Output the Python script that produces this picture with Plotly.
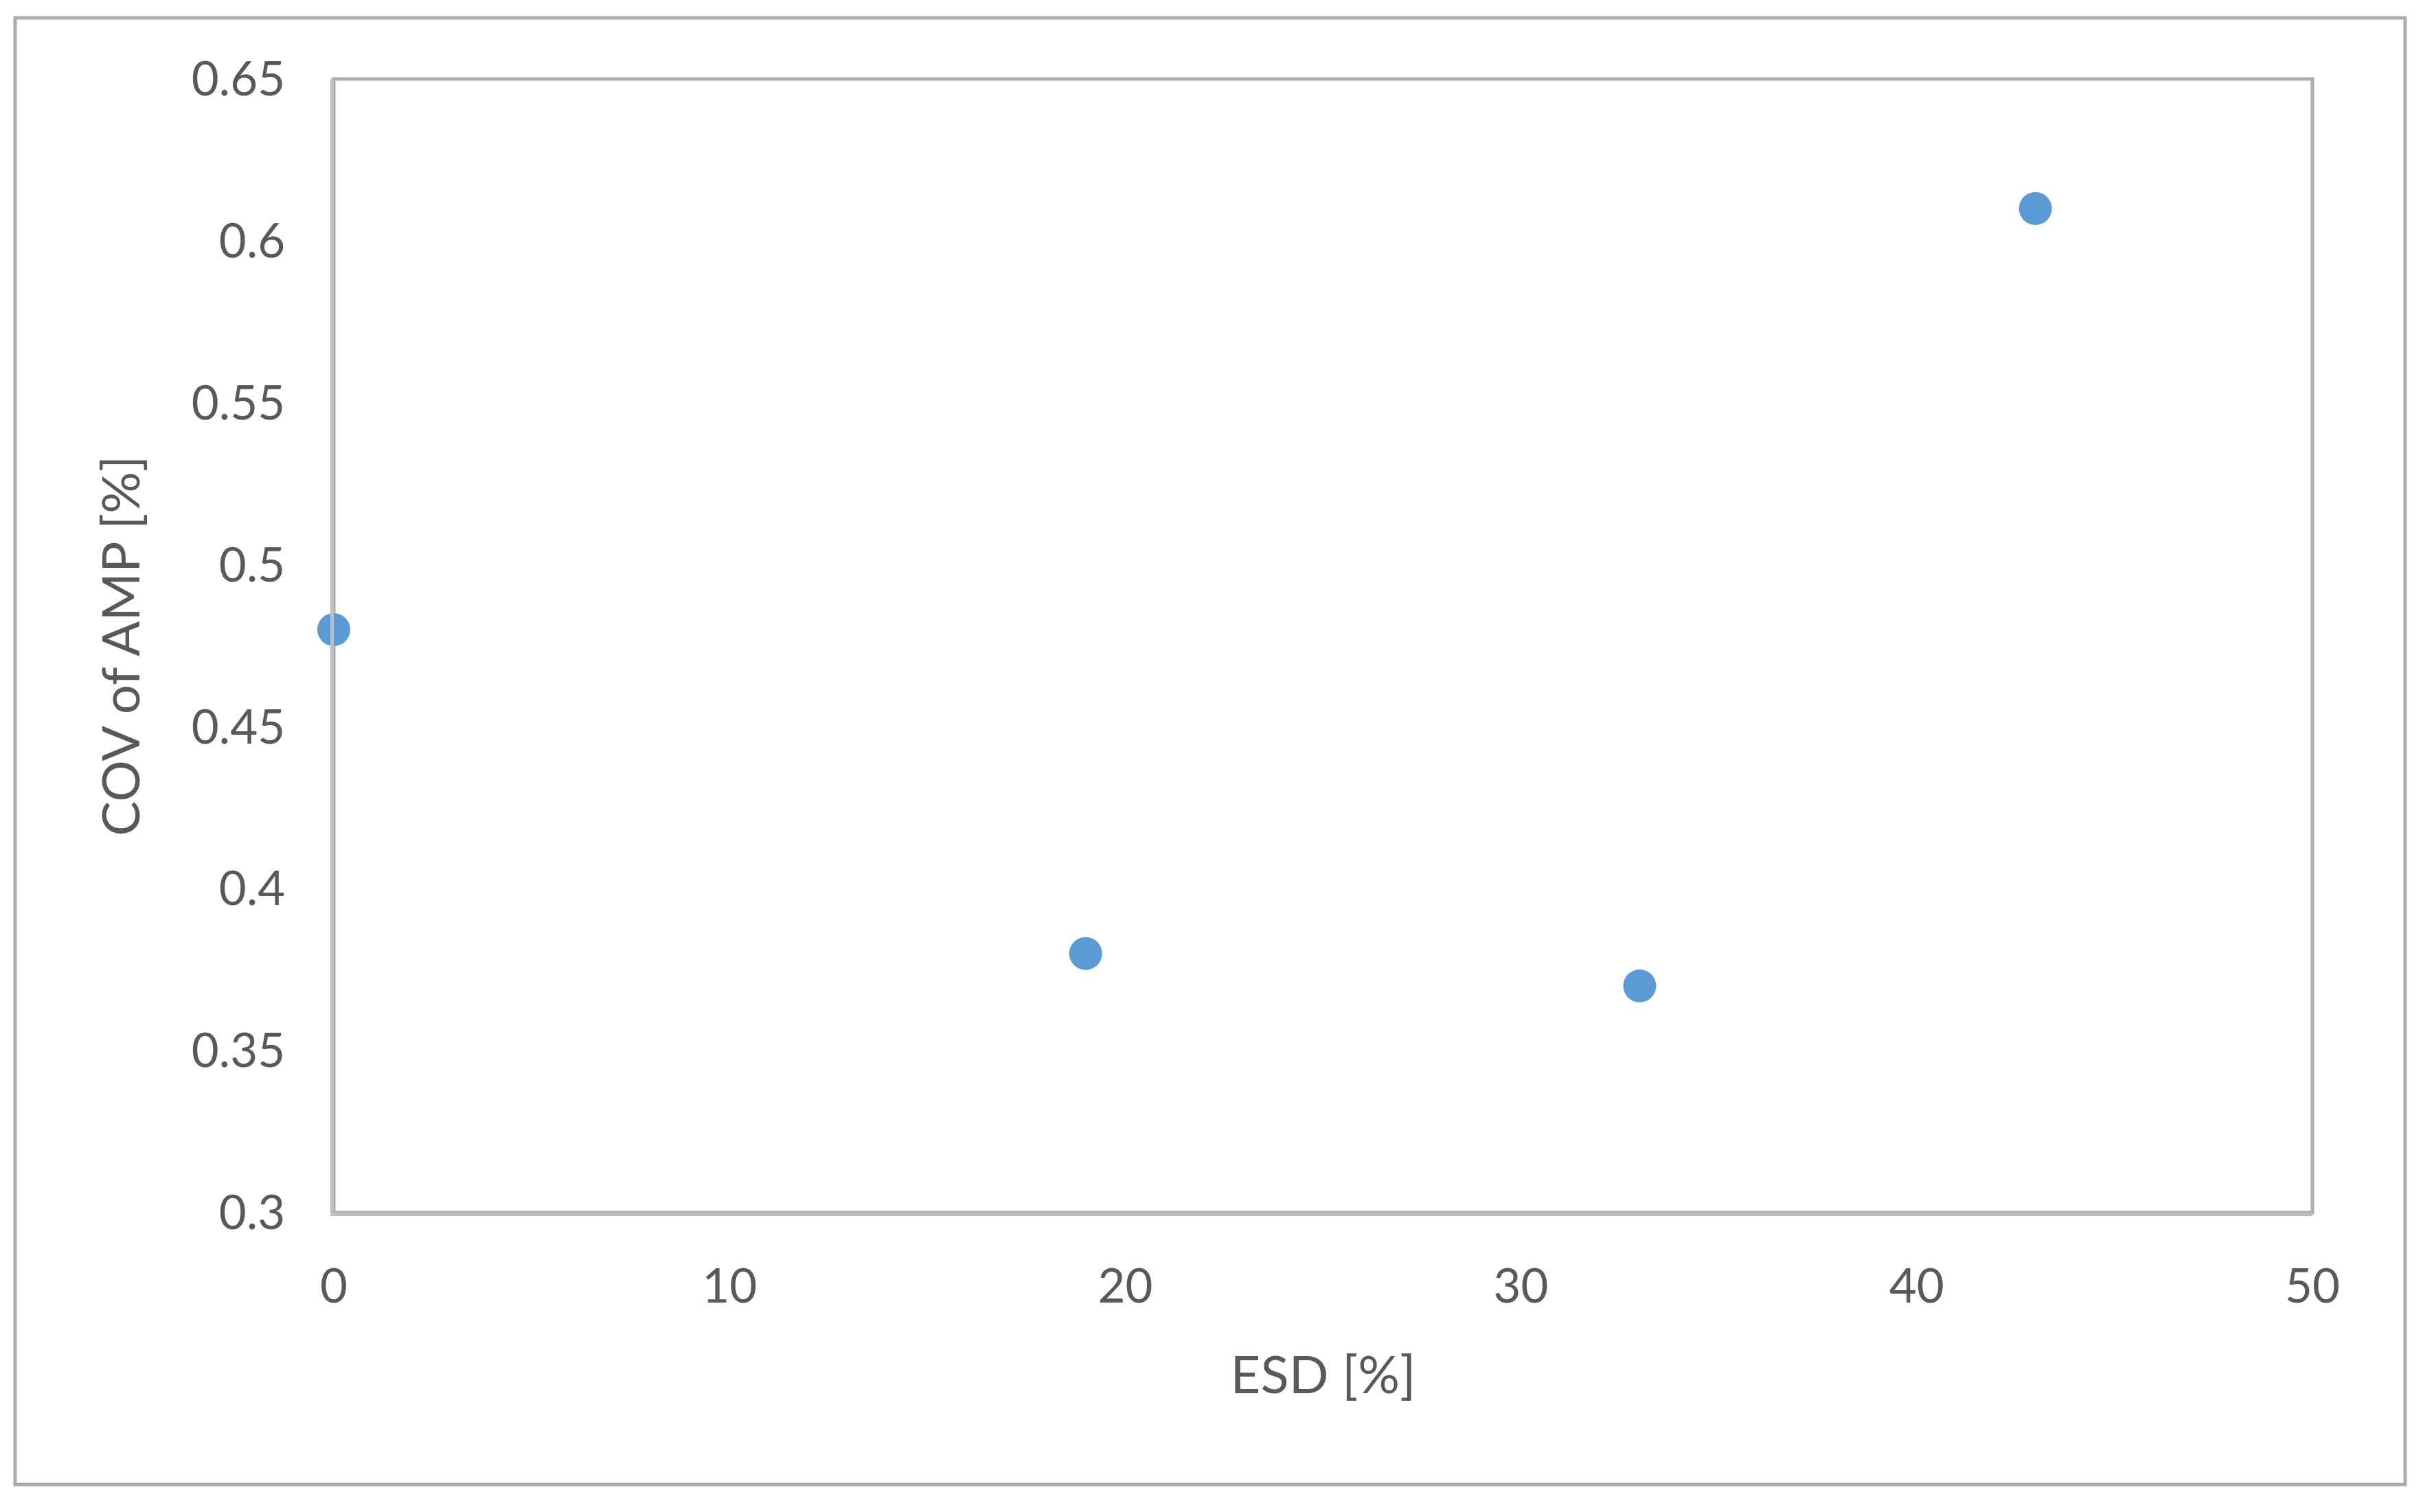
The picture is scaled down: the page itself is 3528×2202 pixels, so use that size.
import plotly.graph_objects as go

# data
esd = [0, 19, 33, 43]
cov_amp = [0.48, 0.38, 0.37, 0.61]

x_ticks = [0, 10, 20, 30, 40, 50]
y_ticks = [0.3, 0.35, 0.4, 0.45, 0.5, 0.55, 0.6, 0.65]

# page body has an 8px margin, so the figure is a bit smaller and shifted
off = 8
W, H = 3528 - 2 * off, 2202 - 2 * off
left, right, top, bottom = 486 - off, 3367 - off, 115 - off, 1766 - off
pw, ph = right - left, bottom - top

text_col = "#595959"
font = "Lato, Carlito, 'Open Sans', sans-serif"

fig = go.Figure()

fig.add_trace(
    go.Scatter(
        x=esd,
        y=cov_amp,
        mode="markers",
        marker=dict(color="#5B9BD5", size=48, line=dict(width=0)),
        cliponaxis=False,
        showlegend=False,
    )
)

axis_common = dict(
    showgrid=False,
    zeroline=False,
    showline=True,
    linecolor="#BFBFBF",
    linewidth=5,
    ticks="",
    tickfont=dict(family=font, size=69, color=text_col),
)

fig.update_xaxes(
    range=[0, 50],
    tickvals=x_ticks,
    ticklabelstandoff=43,
    title=dict(text="ESD [%]", font=dict(family=font, size=76, color=text_col), standoff=67),
    **axis_common
)
fig.update_yaxes(
    range=[0.3, 0.65],
    tickvals=y_ticks,
    ticklabelstandoff=52,
    title=dict(text="COV of AMP [%]", font=dict(family=font, size=76, color=text_col), standoff=52),
    **axis_common
)

# plot area border (top/right side lines)
fig.add_shape(type="rect", xref="paper", yref="paper", x0=0, x1=1, y0=0, y1=1,
              line=dict(color="#AEABAB", width=5), layer="below")

# outer chart border
fig.add_shape(type="rect", xref="paper", yref="paper",
              x0=(22 - off - left) / pw, x1=(3502 - off - left) / pw,
              y0=(bottom - (2162 - off)) / ph, y1=(bottom - (26 - off)) / ph,
              line=dict(color="#AEABAB", width=5))

fig.update_layout(
    width=W,
    height=H,
    margin=dict(l=left, r=W - right, t=top, b=H - bottom),
    paper_bgcolor="white",
    plot_bgcolor="white",
    showlegend=False,
)

fig.write_html("out.html")
